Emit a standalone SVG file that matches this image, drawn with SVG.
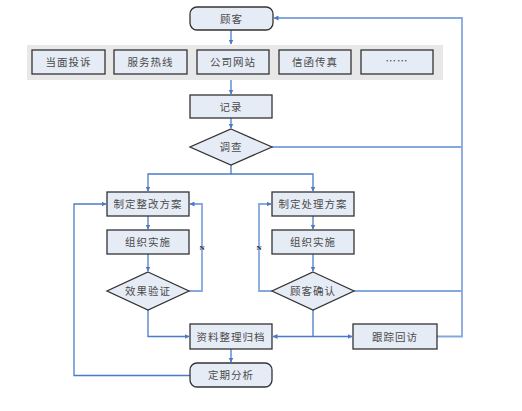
<svg xmlns="http://www.w3.org/2000/svg" width="522" height="411" viewBox="0 0 522 411">
<style>
.box{fill:#e6ecf6;stroke:#333;stroke-width:1.3}
.t{font-family:"Noto Sans CJK SC","Noto Sans CJK JP",sans-serif;font-size:10.5px;fill:#4a4a4a;text-anchor:middle;letter-spacing:1px}
.l{fill:none;stroke:#4a7cc6;stroke-width:1.3}
.lf{fill:none;stroke:#86a8de;stroke-width:1.8}
.n{font-family:"Liberation Serif",serif;font-size:7px;font-weight:bold;fill:#222;text-anchor:middle}
</style>
<defs>
<marker id="a" viewBox="0 0 10 10" refX="9" refY="5" markerWidth="5" markerHeight="5" orient="auto" markerUnits="userSpaceOnUse"><path d="M0,0L10,5L0,10z" fill="#4a7cc6"/></marker>
</defs>
<rect width="522" height="411" fill="#fff"/>
<rect x="27" y="45" width="416" height="35" fill="#e8e8e8"/>
<g id="connectors">
<path class="l" d="M231,30V44" marker-end="url(#a)"/>
<path class="l" d="M231,80V94" marker-end="url(#a)"/>
<path class="l" d="M231,118V128" marker-end="url(#a)"/>
<path class="l" d="M231,165V174H148V191" marker-end="url(#a)"/>
<path class="l" d="M231,174H313V191" marker-end="url(#a)"/>
<path class="l" d="M148,216V229" marker-end="url(#a)"/>
<path class="l" d="M313,216V229" marker-end="url(#a)"/>
<path class="l" d="M148,254V271" marker-end="url(#a)"/>
<path class="l" d="M313,254V271" marker-end="url(#a)"/>
<path class="lf" d="M189,291H202V204H190" marker-end="url(#a)"/>
<path class="lf" d="M273,291H259V204H271" marker-end="url(#a)"/>
<path class="lf" d="M272,147H462"/>
<path class="lf" d="M354,291H462"/>
<path class="lf" d="M437,336.5H462V18H274" marker-end="url(#a)"/>
<path class="l" d="M148,310V336.5H189" marker-end="url(#a)"/>
<path class="l" d="M313,310V336.5H273" marker-end="url(#a)"/>
<path class="l" d="M313,336.5H352" marker-end="url(#a)"/>
<path class="l" d="M231,349V362" marker-end="url(#a)"/>
<path class="l" d="M190,375.5H74V204H106" marker-end="url(#a)"/>
</g>
<text class="n" x="202" y="250">N</text>
<text class="n" x="259" y="250">N</text>
<g id="n_guke"><rect class="box" x="190" y="7" width="83" height="23" rx="7"/><text class="t" x="231.5" y="22.5">顾客</text></g>
<g id="n_dangmian"><rect class="box" x="32" y="50" width="73" height="24"/><text class="t" x="68.5" y="66">当面投诉</text></g>
<g id="n_rexian"><rect class="box" x="114" y="50" width="73" height="24"/><text class="t" x="150.5" y="66">服务热线</text></g>
<g id="n_wangzhan"><rect class="box" x="197" y="50" width="72" height="24"/><text class="t" x="233" y="66">公司网站</text></g>
<g id="n_xinhan"><rect class="box" x="279" y="50" width="72" height="24"/><text class="t" x="315" y="66">信函传真</text></g>
<g id="n_more"><rect class="box" x="361" y="50" width="72" height="24"/><text class="t" x="397" y="65">……</text></g>
<g id="n_jilu"><rect class="box" x="190" y="95" width="82" height="23"/><text class="t" x="231" y="110.5">记录</text></g>
<g id="n_diaocha"><polygon class="box" points="231,129 272,147 231,165 190,147"/><text class="t" x="231" y="151">调查</text></g>
<g id="n_zhenggai"><rect class="box" x="107" y="192" width="82" height="24"/><text class="t" x="148" y="208">制定整改方案</text></g>
<g id="n_chuli"><rect class="box" x="272" y="192" width="82" height="24"/><text class="t" x="313" y="208">制定处理方案</text></g>
<g id="n_shishi1"><rect class="box" x="107" y="230" width="82" height="24"/><text class="t" x="148" y="246">组织实施</text></g>
<g id="n_shishi2"><rect class="box" x="272" y="230" width="82" height="24"/><text class="t" x="313" y="246">组织实施</text></g>
<g id="n_yanzheng"><polygon class="box" points="148,272 189,291 148,310 107,291"/><text class="t" x="148" y="295">效果验证</text></g>
<g id="n_queren"><polygon class="box" points="313,272 354,291 313,310 272,291"/><text class="t" x="313" y="295">顾客确认</text></g>
<g id="n_guidang"><rect class="box" x="190" y="324" width="82" height="25"/><text class="t" x="231" y="340.5">资料整理归档</text></g>
<g id="n_huifang"><rect class="box" x="353" y="324" width="84" height="25"/><text class="t" x="395" y="340.5">跟踪回访</text></g>
<g id="n_fenxi"><rect class="box" x="190" y="363" width="82" height="24" rx="7"/><text class="t" x="231" y="379">定期分析</text></g>
</svg>
